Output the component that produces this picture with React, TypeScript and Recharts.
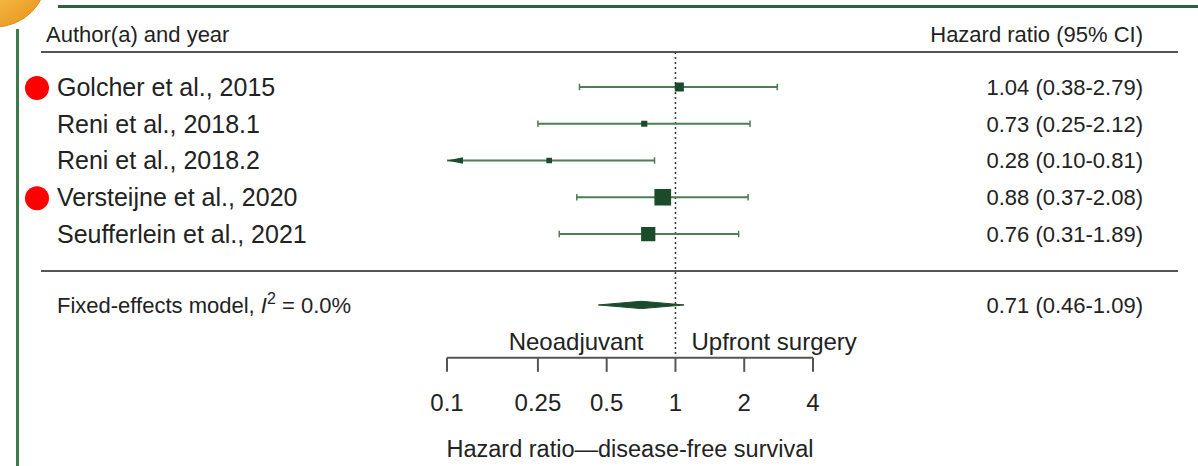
import { ComposedChart, XAxis, YAxis, ZAxis, Scatter, Line, Area, ReferenceLine } from 'recharts';

// study rows, top to bottom
const studies = [
  'Golcher et al., 2015',
  'Reni et al., 2018.1',
  'Reni et al., 2018.2',
  'Versteijne et al., 2020',
  'Seufferlein et al., 2021',
];
const hazardRatios = [1.04, 0.73, 0.28, 0.88, 0.76];
const ciLower = [0.38, 0.25, 0.1, 0.37, 0.31];
const ciUpper = [2.79, 2.12, 0.81, 2.08, 1.89];
const weights = [13, 6, 5, 44, 32];
const flagged = [true, false, false, true, false];

// pooled estimate: [hr, lower, upper]
const pooledEstimate = [0.71, 0.46, 1.09];
const pooledI2 = '0.0%';

const xTicks = [0.1, 0.25, 0.5, 1, 2, 4];

const W = 1198;
const H = 466;
const INK = '#222';
const BOX = '#1c4b2c';
const WHISKER = '#4d7d57';
const RULE = '#555';

const X_MIN = 0.1;
const X_MAX = 4;
const Y_MIN = -1.6;
const Y_MAX = 7.37;
const HEADER_ROW = -1.45;
const RULE_ROW = -0.95;
const SUMMARY_ROW = 5.93;
const rowTicks = [HEADER_ROW, ...studies.map((_, i) => i), SUMMARY_ROW];

const fmt = (v: number) => v.toFixed(2);

const boxData = studies.map((name, i) => ({ name, x: hazardRatios[i], y: i, w: weights[i] }));

const whiskers = studies.map((_, i) => [
  { x: ciLower[i], y: i, clipped: ciLower[i] <= X_MIN },
  { x: ciUpper[i], y: i, clipped: ciUpper[i] >= X_MAX },
]);

const diamondHalf = 0.1;
const [pHr, pLo, pHi] = pooledEstimate;
const diamond = [
  { x: pLo, y: [SUMMARY_ROW, SUMMARY_ROW] },
  { x: pHr, y: [SUMMARY_ROW - diamondHalf, SUMMARY_ROW + diamondHalf] },
  { x: pHi, y: [SUMMARY_ROW, SUMMARY_ROW] },
];

function WhiskerEnd(props: any) {
  const { cx, cy, payload, index } = props;
  if (cx == null || cy == null) return null;
  if (payload.clipped) {
    // arrow pointing off the axis
    const dir = index === 0 ? 1 : -1;
    return (
      <path
        d={`M${cx},${cy} L${cx + dir * 16},${cy - 3.3} L${cx + dir * 16},${cy + 3.3} Z`}
        fill={BOX}
      />
    );
  }
  return <line x1={cx} x2={cx} y1={cy - 3.3} y2={cy + 3.3} stroke={WHISKER} strokeWidth={1.5} />;
}

function StudyTick(props: any) {
  const { y, payload } = props;
  const v = payload.value;
  if (v === HEADER_ROW) {
    return (
      <text x={46} y={y} dy="0.355em" fontSize={22} fill={INK}>
        Author(a) and year
      </text>
    );
  }
  if (v === SUMMARY_ROW) {
    return (
      <text x={57} y={y} dy="0.355em" fontSize={22} fill={INK}>
        Fixed-effects model,{' '}
        <tspan fontStyle="italic">I</tspan>
        <tspan dy={-9} fontSize={16}>2</tspan>
        <tspan dy={9}>{` = ${pooledI2}`}</tspan>
      </text>
    );
  }
  return (
    <g>
      {flagged[v] && <circle cx={37} cy={y + 1} r={12} fill="#ff0000" />}
      <text x={57} y={y} dy="0.355em" fontSize={25} fill={INK}>
        {studies[v]}
      </text>
    </g>
  );
}

function ValueTick(props: any) {
  const { y, payload } = props;
  const v = payload.value;
  let label = '';
  if (v === HEADER_ROW) label = 'Hazard ratio (95% CI)';
  else if (v === SUMMARY_ROW) label = `${fmt(pHr)} (${fmt(pLo)}-${fmt(pHi)})`;
  else label = `${fmt(hazardRatios[v])} (${fmt(ciLower[v])}-${fmt(ciUpper[v])})`;
  return (
    <text x={1143} y={y} dy="0.355em" fontSize={22} fill={INK} textAnchor="end">
      {label}
    </text>
  );
}

// direction labels either side of the null line
function SideLabels(props: any) {
  const { viewBox } = props;
  if (!viewBox) return null;
  const base = viewBox.y + viewBox.height - 8;
  return (
    <g fontSize={24} fill={INK}>
      <text x={viewBox.x - 32} y={base} textAnchor="end">Neoadjuvant</text>
      <text x={viewBox.x + 16} y={base}>Upfront surgery</text>
    </g>
  );
}

export default function App() {
  return (
    <div
      style={{
        position: 'absolute',
        left: 0,
        top: 0,
        width: W,
        height: H,
        background: '#fff',
        fontFamily: '"Liberation Sans", Arial, sans-serif',
      }}
    >
      <ComposedChart width={W} height={H} margin={{ top: 28.2, right: 0, bottom: 8.14, left: 0 }}>
        <XAxis
          dataKey="x"
          type="number"
          scale="log"
          domain={[X_MIN, X_MAX]}
          allowDataOverflow
          ticks={xTicks}
          interval={0}
          tickFormatter={(v: number) => String(v)}
          tickSize={14}
          tickMargin={22}
          height={100}
          stroke={RULE}
          strokeWidth={2}
          tick={{ fontSize: 24, fill: INK }}
          label={{
            value: 'Hazard ratio\u2014disease-free survival',
            position: 'insideBottom',
            offset: 1,
            fontSize: 23.5,
            fill: INK,
          }}
        />
        <YAxis
          yAxisId={0}
          dataKey="y"
          type="number"
          domain={[Y_MIN, Y_MAX]}
          allowDataOverflow
          reversed
          ticks={rowTicks}
          interval={0}
          width={447}
          axisLine={false}
          tickLine={false}
          tick={(p: any) => <StudyTick {...p} />}
        />
        <YAxis
          yAxisId="vals"
          orientation="right"
          type="number"
          domain={[Y_MIN, Y_MAX]}
          allowDataOverflow
          reversed
          ticks={rowTicks}
          interval={0}
          width={385}
          axisLine={false}
          tickLine={false}
          tick={(p: any) => <ValueTick {...p} />}
        />
        <ZAxis dataKey="w" type="number" domain={[0, 44]} range={[0, 279]} />
        <ReferenceLine
          segment={[
            { x: 1, y: RULE_ROW },
            { x: 1, y: Y_MAX },
          ]}
          stroke="#333"
          strokeWidth={1.5}
          strokeDasharray="2 3"
          label={<SideLabels />}
        />
        {whiskers.map((seg, i) => (
          <Line
            key={studies[i]}
            data={seg}
            dataKey="y"
            type="linear"
            stroke={WHISKER}
            strokeWidth={2}
            dot={(p: any) => <WhiskerEnd key={`${i}-${p.index}`} {...p} />}
            activeDot={false}
            legendType="none"
            isAnimationActive={false}
          />
        ))}
        <Area
          data={diamond}
          dataKey="y"
          type="linear"
          stroke={BOX}
          strokeWidth={1}
          fill={BOX}
          fillOpacity={1}
          dot={false}
          activeDot={false}
          isAnimationActive={false}
        />
        <Scatter data={boxData} shape="square" fill={BOX} isAnimationActive={false} />
      </ComposedChart>
      <svg
        width={W}
        height={H}
        style={{ position: 'absolute', left: 0, top: 0, pointerEvents: 'none' }}
      >
        <defs>
          <radialGradient id="badge" cx="40%" cy="40%" r="65%">
            <stop offset="0%" stopColor="#fcd65e" />
            <stop offset="100%" stopColor="#eb9d27" />
          </radialGradient>
        </defs>
        <circle cx={-5} cy={-25} r={52} fill="url(#badge)" stroke="#d98c1c" strokeWidth={1} />
        <line x1={58} x2={W} y1={6.5} y2={6.5} stroke="#2f5f3c" strokeWidth={3} />
        <line x1={17.5} x2={17.5} y1={29} y2={H} stroke="#3f7a4d" strokeWidth={3} />
        <line x1={41} x2={1178} y1={52} y2={52} stroke={RULE} strokeWidth={2} />
        <line x1={41} x2={1178} y1={271} y2={271} stroke={RULE} strokeWidth={2} />
      </svg>
    </div>
  );
}
